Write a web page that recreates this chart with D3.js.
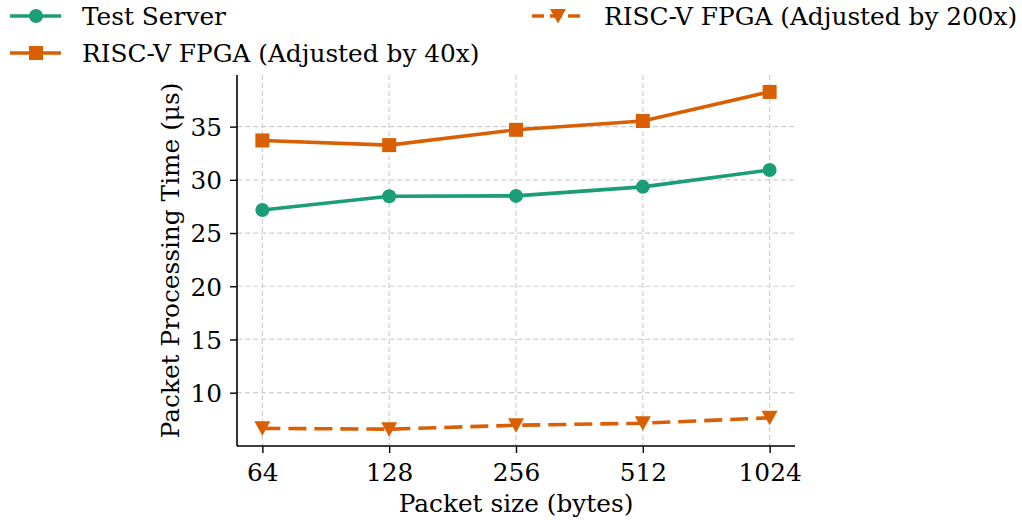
<!DOCTYPE html>
<html>
<head>
<meta charset="utf-8">
<script src="https://cdn.jsdelivr.net/npm/d3@7"></script>
<style>
  body { margin: 0; background: #fff; }
</style>
</head>
<body>
<svg id="chart" width="1022" height="520" font-family="DejaVu Serif"></svg>
<script>
// data
var packetSizes = ["64", "128", "256", "512", "1024"];
var testServer = [27.17, 28.46, 28.49, 29.34, 30.92];
var fpga40 = [33.70, 33.26, 34.70, 35.53, 38.26];
var fpga200 = [6.65, 6.57, 6.94, 7.13, 7.64];
var yTicks = [10, 15, 20, 25, 30, 35];

var FONT = "DejaVu Serif";
var FS = 24.8;

var series = [
  { name: "Test Server", values: testServer, color: "#1b9e77", marker: "circle", dash: null },
  { name: "RISC-V FPGA (Adjusted by 40x)", values: fpga40, color: "#d95f02", marker: "square", dash: null },
  { name: "RISC-V FPGA (Adjusted by 200x)", values: fpga200, color: "#d95f02", marker: "triangle", dash: "18,8" }
];

var margin = { top: 75, right: 227, bottom: 74, left: 237 },
  width = 1022 - margin.left - margin.right,
  height = 520 - margin.top - margin.bottom;

var svg = d3.select("#chart");
var g = svg.append("g")
  .attr("transform", "translate(" + margin.left + "," + margin.top + ")");

var x = d3.scalePoint().domain(packetSizes).range([0, width]).padding(0.2);
var y = d3.scaleLinear().domain([4.99, 39.85]).range([height, 0]);

// grid
g.selectAll(".gx").data(packetSizes).enter().append("line")
  .attr("x1", function (d) { return x(d); })
  .attr("x2", function (d) { return x(d); })
  .attr("y1", 0).attr("y2", height)
  .style("stroke", "#cfcfcf").style("stroke-width", 1.2)
  .style("stroke-dasharray", "5,3");
g.selectAll(".gy").data(yTicks).enter().append("line")
  .attr("x1", 0).attr("x2", width)
  .attr("y1", function (d) { return y(d); })
  .attr("y2", function (d) { return y(d); })
  .style("stroke", "#cfcfcf").style("stroke-width", 1.2)
  .style("stroke-dasharray", "5,3");

// axes
var xAxis = g.append("g")
  .attr("transform", "translate(0," + height + ")")
  .call(d3.axisBottom(x).tickSizeOuter(0).tickSize(7).tickPadding(4));
var yAxis = g.append("g")
  .call(d3.axisLeft(y).tickValues(yTicks).tickSizeOuter(0).tickSize(7).tickPadding(8));
[xAxis, yAxis].forEach(function (a) {
  a.attr("font-family", FONT).attr("font-size", FS);
  a.select(".domain").style("stroke", "#000").style("stroke-width", 1.6);
  a.selectAll(".tick line").style("stroke", "#000").style("stroke-width", 1.4);
  a.selectAll(".tick text").attr("font-family", FONT).attr("font-size", FS).attr("fill", "#000");
});
xAxis.selectAll(".tick text").attr("dy", "0.95em");
yAxis.selectAll(".tick text").attr("dy", "0.36em");
xAxis.select(".domain").attr("d", "M0,0H" + width);
yAxis.select(".domain").attr("d", "M0,0V" + height);

function drawMarker(sel, type, color) {
  if (type === "circle") {
    sel.append("circle").attr("r", 7).style("fill", color);
  } else if (type === "square") {
    sel.append("rect").attr("x", -7).attr("y", -7).attr("width", 14).attr("height", 14).style("fill", color);
  } else {
    sel.append("path").attr("d", "M-8,-7L8,-7L0,7.5Z").style("fill", color);
  }
}

var line = d3.line()
  .x(function (d, i) { return x(packetSizes[i]); })
  .y(function (d) { return y(d); });

series.forEach(function (s) {
  g.append("path")
    .datum(s.values)
    .attr("d", line)
    .style("fill", "none")
    .style("stroke", s.color)
    .style("stroke-width", 3.6)
    .style("stroke-dasharray", s.dash);
  g.selectAll(null).data(s.values).enter().append("g")
    .attr("transform", function (d, i) { return "translate(" + x(packetSizes[i]) + "," + y(d) + ")"; })
    .each(function () { drawMarker(d3.select(this), s.marker, s.color); });
});

// axis labels
svg.append("text")
  .attr("x", margin.left + width / 2)
  .attr("y", 512)
  .attr("text-anchor", "middle")
  .attr("font-family", FONT)
  .attr("font-size", FS)
  .text("Packet size (bytes)");
svg.append("text")
  .attr("transform", "translate(179," + (margin.top + height / 2) + ") rotate(-90)")
  .attr("text-anchor", "middle")
  .attr("font-family", FONT)
  .attr("font-size", FS)
  .text("Packet Processing Time (μs)");

// legend
var legendPos = [
  { x: 10, y: 16 },
  { x: 10, y: 53 },
  { x: 532, y: 16 }
];
series.forEach(function (s, i) {
  var lg = svg.append("g").attr("transform", "translate(" + legendPos[i].x + "," + legendPos[i].y + ")");
  lg.append("line")
    .attr("x1", 0).attr("x2", 51).attr("y1", 0).attr("y2", 0)
    .style("stroke", s.color).style("stroke-width", 3.6)
    .style("stroke-dasharray", s.dash ? "12,6" : null);
  var m = lg.append("g").attr("transform", "translate(26,0)");
  drawMarker(m, s.marker, s.color);
  lg.append("text")
    .attr("x", 72).attr("y", 0).attr("dy", "0.35em")
    .attr("font-family", FONT)
    .attr("font-size", FS)
    .text(s.name);
});
</script>
</body>
</html>
